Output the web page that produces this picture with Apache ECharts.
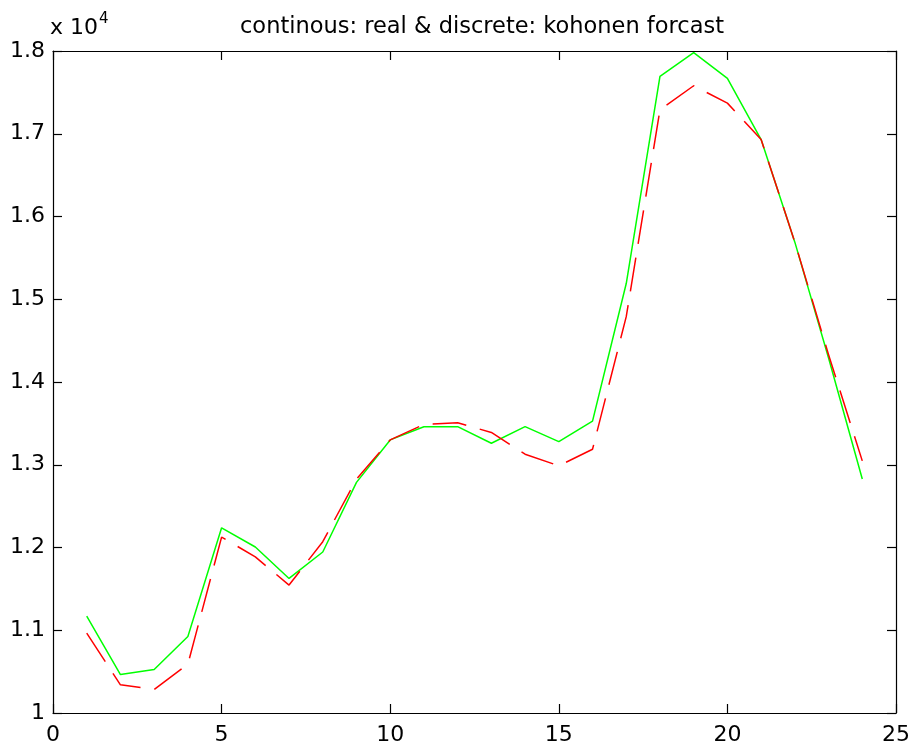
<!DOCTYPE html>
<html lang="en">
<head>
    <meta charset="UTF-8">
    <title>kohonen forcast</title>
    <script type="text/javascript" src="https://cdn.jsdelivr.net/npm/echarts@6/dist/echarts.min.js"></script>
    <style>
        html, body { margin: 0; padding: 0; background: #fff; }
    </style>
</head>
<body>
<div id="main" style="width:913px;height:746px;"></div>

<script type="text/javascript">
    // hours 1..24
    var hours = [1, 2, 3, 4, 5, 6, 7, 8, 9, 10, 11, 12, 13, 14, 15, 16, 17, 18, 19, 20, 21, 22, 23, 24];
    // continous: real (green)
    var realValues = [11170, 10465, 10525, 10925, 12238, 12006, 11626, 11946, 12787, 13300, 13460, 13460,
        13260, 13460, 13280, 13528, 15190, 17692, 17980, 17670, 16930, 15690, 14290, 12827];
    // discrete: kohonen forcast (red dashed)
    var forcastValues = [10965, 10340, 10285, 10590, 12126, 11886, 11546, 12070, 12827, 13300, 13487, 13507,
        13390, 13127, 12987, 13187, 14790, 17290, 17580, 17370, 16930, 15690, 14330, 13047];

    function pairs(xs, ys) {
        var out = [];
        for (var i = 0; i < xs.length; i++) {
            out.push([xs[i], ys[i]]);
        }
        return out;
    }

    var font = 'DejaVu Sans';
    var myChart = echarts.init(document.getElementById('main'));

    var boxAxisLine = { show: true, onZero: false, lineStyle: { color: '#000', width: 1.2 } };
    var boxTick = { show: true, inside: true, length: 9, lineStyle: { color: '#000', width: 1.2 } };

    var option = {
        backgroundColor: '#fff',
        animation: false,
        title: {
            text: 'continous: real & discrete: kohonen forcast',
            left: 477,
            textAlign: 'center',
            top: 11,
            textStyle: { fontFamily: font, fontSize: 22.5, fontWeight: 'normal', color: '#000' }
        },
        graphic: [{
            type: 'text',
            left: 50,
            top: 12,
            style: {
                text: '{a|x 10}{b|4}',
                rich: {
                    a: { fontFamily: font, fontSize: 22, color: '#000', padding: [12, 0, 0, 0] },
                    b: { fontFamily: font, fontSize: 15, color: '#000', padding: [0, 0, 6, 1] }
                }
            }
        }],
        grid: { left: 53, right: 16, top: 51, bottom: 29, containLabel: false },
        xAxis: [{
            type: 'value',
            min: 0,
            max: 25,
            interval: 5,
            axisLine: boxAxisLine,
            axisTick: boxTick,
            splitLine: { show: false },
            axisLabel: { margin: 11, fontFamily: font, fontSize: 22, color: '#000' }
        }, {
            type: 'value',
            position: 'top',
            min: 0,
            max: 25,
            interval: 5,
            axisLine: boxAxisLine,
            axisTick: boxTick,
            splitLine: { show: false },
            axisLabel: { show: false }
        }],
        yAxis: [{
            type: 'value',
            min: 10000,
            max: 18000,
            interval: 1000,
            axisLine: boxAxisLine,
            axisTick: boxTick,
            splitLine: { show: false },
            axisLabel: {
                margin: 8, fontFamily: font, fontSize: 22, color: '#000',
                formatter: function (v) { return String(Math.round(v / 100) / 100); }
            }
        }, {
            type: 'value',
            position: 'right',
            min: 10000,
            max: 18000,
            interval: 1000,
            axisLine: boxAxisLine,
            axisTick: boxTick,
            splitLine: { show: false },
            axisLabel: { show: false }
        }],
        series: [{
            name: 'real',
            type: 'line',
            data: pairs(hours, realValues),
            showSymbol: false,
            symbol: 'none',
            lineStyle: { color: '#00ff00', width: 1.5 },
            z: 2
        }, {
            name: 'kohonen forcast',
            type: 'line',
            data: pairs(hours, forcastValues),
            showSymbol: false,
            symbol: 'none',
            lineStyle: { color: '#ff0000', width: 1.5, type: [34, 14] },
            z: 3
        }]
    };
    myChart.setOption(option);
</script>
</body>
</html>
